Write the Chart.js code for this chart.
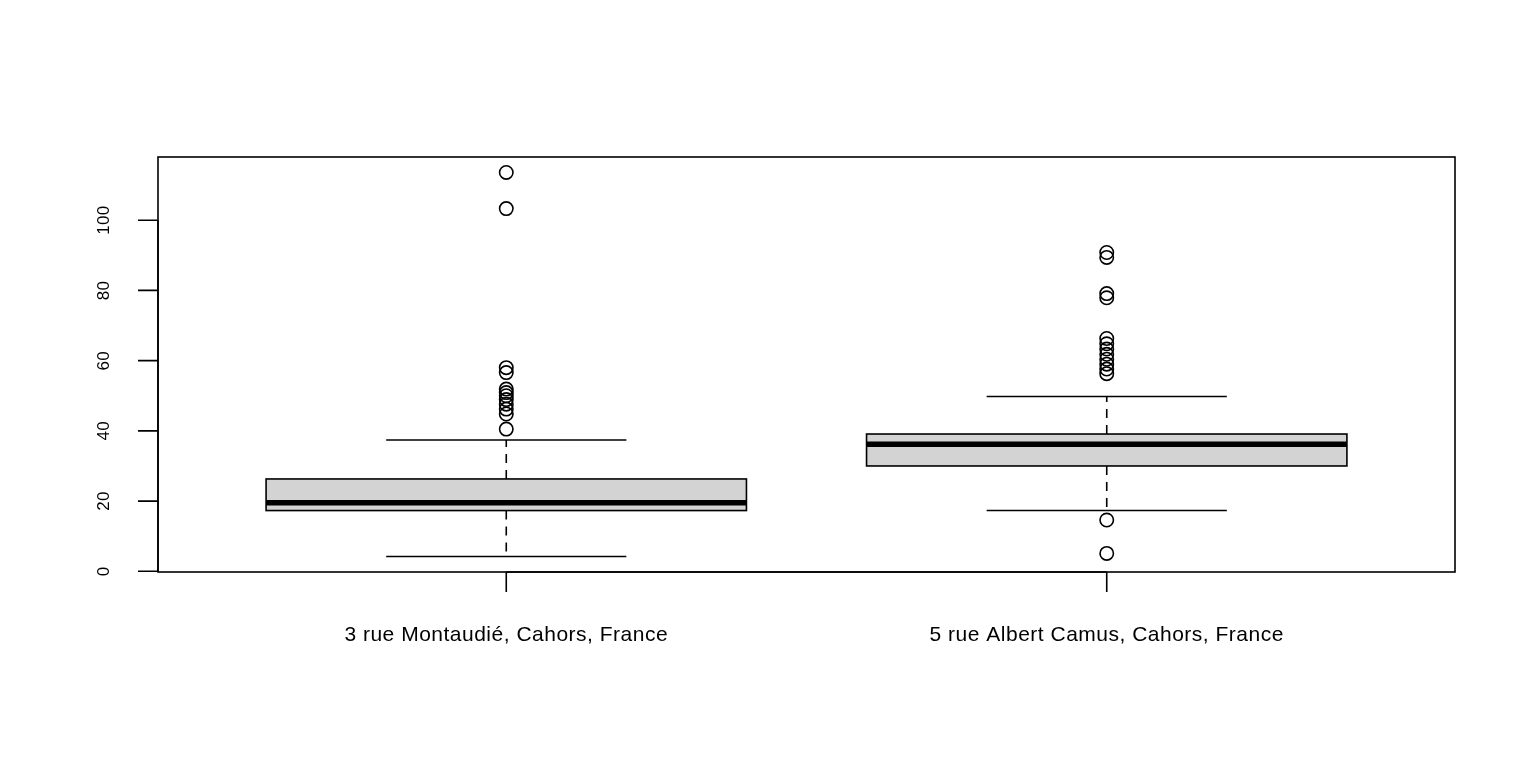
<!DOCTYPE html>
<html>
<head>
<meta charset="utf-8">
<script src="https://cdn.jsdelivr.net/npm/chart.js@4/dist/chart.umd.min.js"></script>
<style>
html,body{margin:0;padding:0;background:#fff;overflow:hidden;}
canvas{display:block;}
</style>
</head>
<body>
<canvas id="c" width="1536" height="768"></canvas>
<script>
// ---- data ----
const categories = ["3 rue Montaudié, Cahors, France", "5 rue Albert Camus, Cahors, France"];
const lowerWhisker = [4.2, 17.3];
const q1 = [17.3, 30.0];
const median = [19.5, 36.2];
const q3 = [26.3, 39.1];
const upperWhisker = [37.4, 49.8];
const outliers1 = [113.6, 103.3, 58.0, 56.6, 51.9, 50.9, 50.0, 48.9, 47.6, 46.2, 44.8, 40.5];
const outliers2 = [90.8, 89.4, 79.1, 77.9, 66.3, 64.8, 63.3, 61.8, 60.4, 59.0, 57.6, 56.3, 14.6, 5.1];
const yTicks = [0, 20, 40, 60, 80, 100];

const FONT = '"Liberation Sans", Arial, Helvetica, sans-serif';

const boxPlugin = {
  id: 'boxplot',
  beforeDatasetsDraw(chart) {
    const ctx = chart.ctx, xs = chart.scales.x, ys = chart.scales.y;
    ctx.save();
    for (let i = 0; i < categories.length; i++) {
      const pos = i + 1;
      const cx = xs.getPixelForValue(pos);
      const bl = xs.getPixelForValue(pos - 0.4), br = xs.getPixelForValue(pos + 0.4);
      const sl = xs.getPixelForValue(pos - 0.2), sr = xs.getPixelForValue(pos + 0.2);
      const yLW = ys.getPixelForValue(lowerWhisker[i]);
      const yQ1 = ys.getPixelForValue(q1[i]);
      const yMed = ys.getPixelForValue(median[i]);
      const yQ3 = ys.getPixelForValue(q3[i]);
      const yUW = ys.getPixelForValue(upperWhisker[i]);
      ctx.strokeStyle = '#000';
      ctx.lineWidth = 1.6;
      // dashed whiskers
      ctx.setLineDash([9, 7]);
      ctx.beginPath();
      ctx.moveTo(cx, yQ3); ctx.lineTo(cx, yUW);
      ctx.moveTo(cx, yQ1); ctx.lineTo(cx, yLW);
      ctx.stroke();
      ctx.setLineDash([]);
      // staples
      ctx.beginPath();
      ctx.moveTo(sl, yUW); ctx.lineTo(sr, yUW);
      ctx.moveTo(sl, yLW); ctx.lineTo(sr, yLW);
      ctx.stroke();
      // box
      ctx.fillStyle = '#d3d3d3';
      ctx.fillRect(bl, yQ3, br - bl, yQ1 - yQ3);
      ctx.strokeRect(bl, yQ3, br - bl, yQ1 - yQ3);
      // median
      ctx.lineWidth = 5.5;
      ctx.beginPath();
      ctx.moveTo(bl, yMed); ctx.lineTo(br, yMed);
      ctx.stroke();
    }
    ctx.restore();
  },
  afterDraw(chart) {
    const ctx = chart.ctx, xs = chart.scales.x, ys = chart.scales.y;
    const a = chart.chartArea;
    ctx.save();
    ctx.strokeStyle = '#000';
    ctx.fillStyle = '#000';
    ctx.lineWidth = 1.6;
    // frame
    ctx.strokeRect(a.left, a.top, a.right - a.left, a.bottom - a.top);
    // y axis
    const y0 = ys.getPixelForValue(yTicks[0]);
    const yN = ys.getPixelForValue(yTicks[yTicks.length - 1]);
    ctx.beginPath();
    ctx.moveTo(a.left, y0); ctx.lineTo(a.left, yN);
    yTicks.forEach(t => {
      const py = ys.getPixelForValue(t);
      ctx.moveTo(a.left, py); ctx.lineTo(a.left - 20, py);
    });
    ctx.stroke();
    ctx.font = '17px ' + FONT;
    ctx.letterSpacing = '0.3px';
    ctx.textAlign = 'center';
    ctx.textBaseline = 'middle';
    yTicks.forEach(t => {
      const py = ys.getPixelForValue(t);
      ctx.save();
      ctx.translate(a.left - 54, py);
      ctx.rotate(-Math.PI / 2);
      ctx.fillText(String(t), 0, 0);
      ctx.restore();
    });
    // x axis
    ctx.beginPath();
    const x1 = xs.getPixelForValue(1), x2 = xs.getPixelForValue(categories.length);
    ctx.moveTo(x1, a.bottom); ctx.lineTo(x2, a.bottom);
    categories.forEach((c, i) => {
      const px = xs.getPixelForValue(i + 1);
      ctx.moveTo(px, a.bottom); ctx.lineTo(px, a.bottom + 20);
    });
    ctx.stroke();
    ctx.font = '21px ' + FONT;
    ctx.letterSpacing = '0.5px';
    ctx.textBaseline = 'alphabetic';
    categories.forEach((c, i) => {
      const px = xs.getPixelForValue(i + 1);
      ctx.fillText(c, px, 641);
    });
    ctx.restore();
  }
};

new Chart(document.getElementById('c'), {
  type: 'scatter',
  data: {
    datasets: [
      { data: outliers1.map(v => ({ x: 1, y: v })) },
      { data: outliers2.map(v => ({ x: 2, y: v })) }
    ].map(d => Object.assign(d, {
      pointStyle: 'circle',
      pointRadius: 6.7,
      pointBorderWidth: 1.6,
      pointBorderColor: '#000',
      pointBackgroundColor: 'rgba(0,0,0,0)'
    }))
  },
  options: {
    responsive: false,
    animation: false,
    layout: { padding: { left: 158, top: 157, right: 81, bottom: 196 } },
    scales: {
      x: { type: 'linear', min: 0.42, max: 2.58, display: false },
      y: { type: 'linear', min: -0.2, max: 118, display: false }
    },
    plugins: { legend: { display: false }, tooltip: { enabled: false } },
    events: []
  },
  plugins: [boxPlugin]
});
</script>
</body>
</html>
